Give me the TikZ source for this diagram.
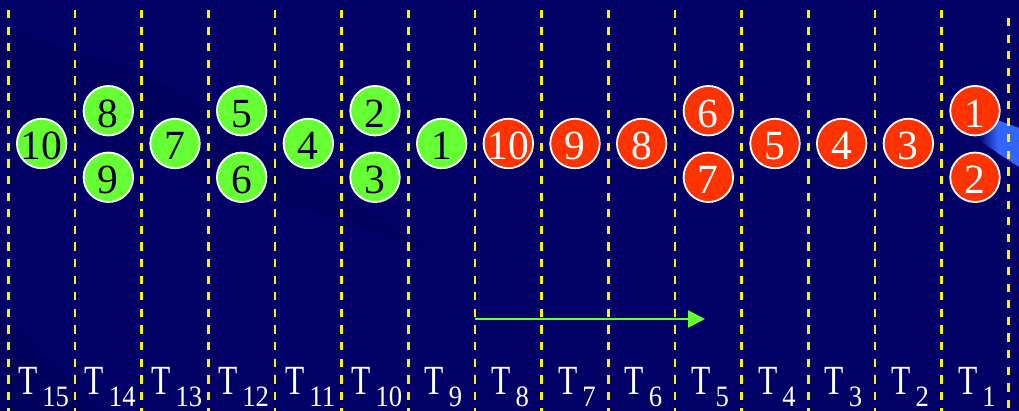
\documentclass[tikz,border=0pt]{standalone}
\usepackage{fontspec}
\setmainfont{Liberation Serif}
\usetikzlibrary{arrows.meta}
\definecolor{bg}{RGB}{0,0,102}
\definecolor{bgdark}{RGB}{0,0,86}
\definecolor{gfill}{RGB}{102,255,51}
\definecolor{rfill}{RGB}{255,51,0}
\definecolor{gtext}{RGB}{0,0,51}
\definecolor{streak}{RGB}{51,102,255}
\newcommand{\tlab}[1]{\scalebox{0.76}[1]{T}\hspace{5pt}\raisebox{-11.5pt}{\fontsize{29.6}{29.6}\selectfont\scalebox{0.9}[1]{#1}}}
\begin{document}
\begin{tikzpicture}[x=1pt,y=-1pt,
  ball/.style={circle, draw=white, line width=1.8pt, minimum size=49.5pt, inner sep=0pt},
  gball/.style={ball, fill=gfill},
  rball/.style={ball, fill=rfill},
  num/.style={anchor=base, inner sep=0pt, font=\fontsize{41.5}{41.5}\selectfont},
  gnum/.style={num, text=gtext},
  rnum/.style={num, text=white},
  gridline/.style={yellow, line width=2.6pt, dash pattern=on 8.3pt off 8.3pt},
  tlabel/.style={white, anchor=base, inner sep=0pt, font=\fontsize{41.5}{41.5}\selectfont},
  flow/.style={draw=gfill, line width=2.6pt, -{Triangle[length=17pt,width=17pt]}}]
% background
\fill[bg] (0,0) rectangle (1019,411);
\useasboundingbox (0,0) rectangle (1019,411);
\fill[bgdark, opacity=0.45] (0,27) -- (150,75) -- (430,250) -- (200,175) -- (0,120) -- cycle;
\fill[bgdark, opacity=0.5] (0,313) -- (100,411) -- (0,411) -- cycle;
\shade[left color=bg, right color=streak] (978,112) -- (998,120) -- (998,153) -- (978,140) -- cycle;
\fill[streak] (997.5,120) -- (1019,128) -- (1019,167) -- (997.5,153) -- cycle;
% dashed separators
\foreach \k in {0,...,14}
  \draw[gridline] ({8.33+66.667*\k},10) -- ({8.33+66.667*\k},411);
\draw[gridline] (1008.3,18) -- (1008.3,411);
% time labels
\foreach \k/\s in {0/15,1/14,2/13,3/12,4/11,5/10,6/9,7/8,8/7,9/6,10/5,11/4,12/3,13/2,14/1}
  \node[tlabel] (T\s) at ({43.5+66.667*\k},394.5) {\tlab{\s}};
% green balls
\foreach \k/\y/\t in {0/143.5/10, 1/110.7/8, 1/177.3/9, 2/143.5/7, 3/110.7/5, 3/177.3/6, 4/143.5/4, 5/110.7/2, 5/177.3/3, 6/143.5/1}{
  \node[gball] (g\t) at ({41.67+66.667*\k},\y) {};
  \node[gnum] (gt\t) at ([yshift=-16.5pt]g\t.center) {\t};
}
% red balls
\foreach \k/\y/\t in {7/143.5/10, 8/143.5/9, 9/143.5/8, 10/110.7/6, 10/177.3/7, 11/143.5/5, 12/143.5/4, 13/143.5/3, 14/110.7/1, 14/177.3/2}{
  \node[rball] (r\t) at ({41.67+66.667*\k},\y) {};
  \node[rnum] (rt\t) at ([yshift=-16.5pt]r\t.center) {\t};
}
% arrow
\coordinate (as) at (475,319);
\coordinate (ae) at (705,319);
\draw[flow] (as) -- (ae);
\end{tikzpicture}
\end{document}
